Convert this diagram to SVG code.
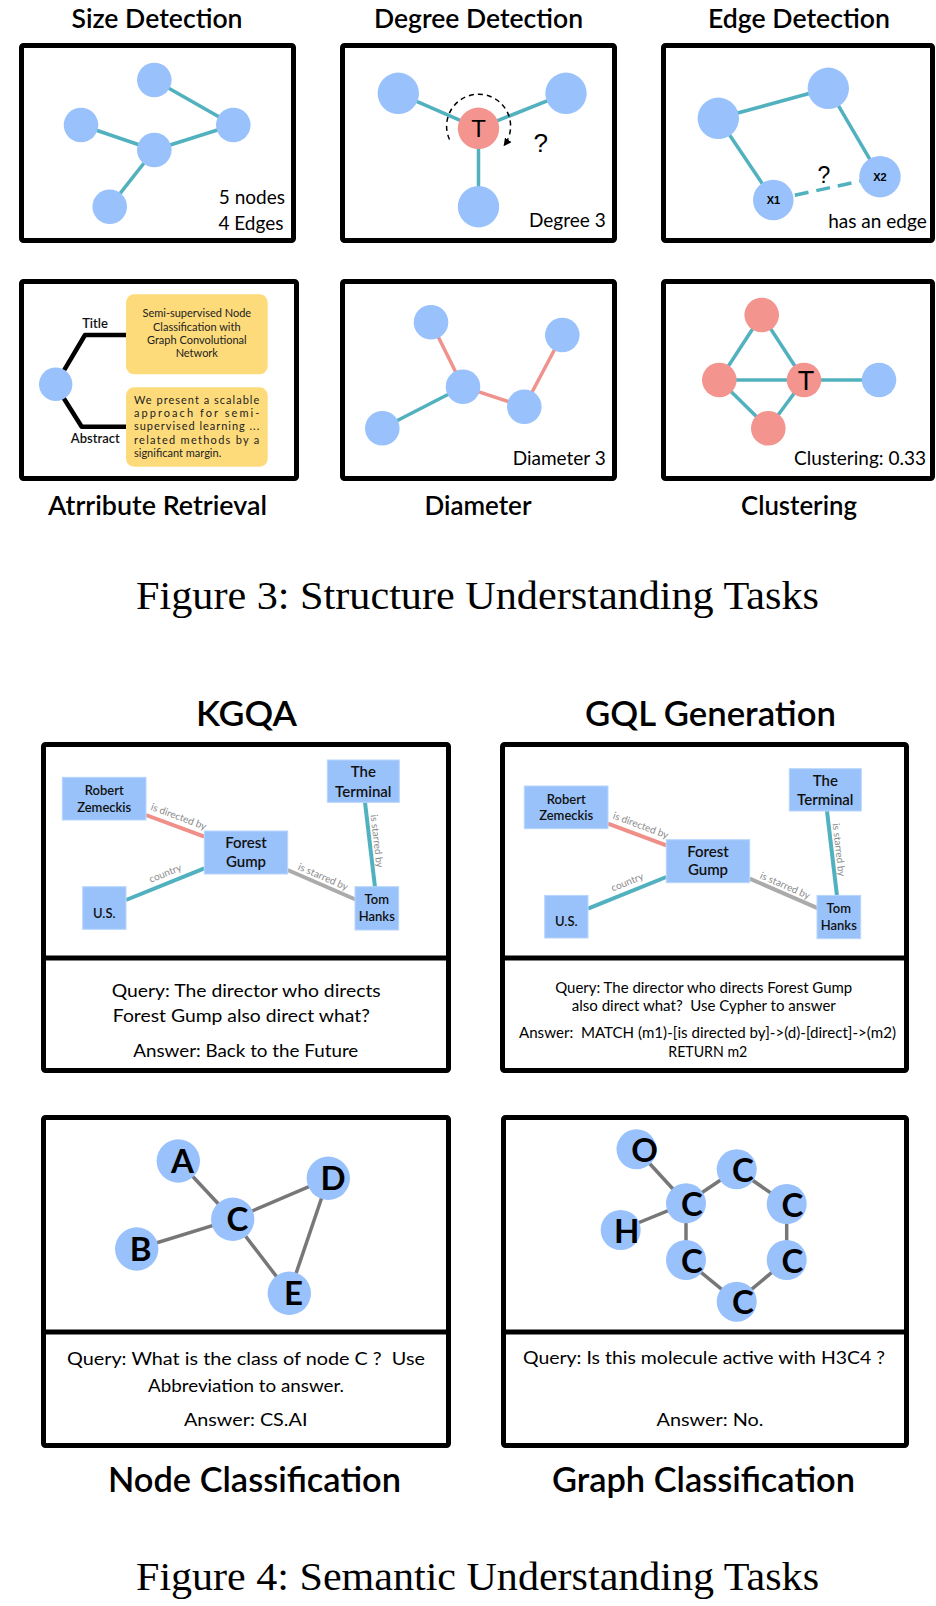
<svg xmlns="http://www.w3.org/2000/svg" width="936" height="1606" viewBox="0 0 936 1606">
<defs>
<style>
.box{fill:none;stroke:#000;stroke-width:5;stroke-linejoin:round}
.ttl{font-family:Lato,"Open Sans",sans-serif;font-weight:600;font-size:26px;fill:#000;text-anchor:middle}
.ttl2{font-family:Lato,"Open Sans",sans-serif;font-weight:600;font-size:34px;fill:#000;text-anchor:middle}
.cap{font-family:"Liberation Serif","Times New Roman",serif;font-size:41px;fill:#000;text-anchor:middle}
.lbl{font-family:Lato,"Open Sans",sans-serif;font-size:19px;fill:#000;text-anchor:end}
.bn{fill:#99C2FC}
.rn{fill:#F3948F}
.te{stroke:#52B1BF;stroke-width:3.5;fill:none}
.se{stroke:#F0928C;stroke-width:3.5;fill:none}
.ge{stroke:#777;stroke-width:3.5;fill:none}
.ke{stroke-width:4;fill:none}
.kr{fill:#99C2FA;stroke:#B8D5FC;stroke-width:1}
.kt{font-family:Lato,"Open Sans",sans-serif;font-size:13px;font-weight:600;fill:#111;text-anchor:middle}
.kt2{font-family:Lato,"Open Sans",sans-serif;font-size:15px;font-weight:600;fill:#111;text-anchor:middle}
.el{font-family:Lato,"Open Sans",sans-serif;font-size:10px;fill:#8a8a8a;text-anchor:middle}
.q{font-family:Lato,"Open Sans",sans-serif;font-size:18px;fill:#000;text-anchor:middle}
.q2{font-family:Lato,"Open Sans",sans-serif;font-size:15px;fill:#000;text-anchor:middle}
.let{font-family:Lato,"Open Sans",sans-serif;font-weight:700;font-size:33px;fill:#000;text-anchor:middle}
.hv{font-family:"Liberation Sans",Arial,sans-serif;fill:#000;text-anchor:middle}
.yb{fill:#FDDB7B}
.yt{font-family:Lato,"Open Sans",sans-serif;font-size:11px;fill:#222}
.blk{stroke:#000;stroke-width:4.5;fill:none;stroke-linejoin:round}
</style>
<marker id="arr" viewBox="0 0 10 10" refX="8" refY="5" markerWidth="8" markerHeight="8" markerUnits="userSpaceOnUse" orient="auto">
<path d="M0,0 L10,5 L0,10 z" fill="#000"/>
</marker>
</defs>
<rect width="936" height="1606" fill="#fff"/>

<!-- ===== Figure 3 ===== -->
<g id="size-detection">
<text class="ttl" x="157" y="28" textLength="171" lengthAdjust="spacingAndGlyphs">Size Detection</text>
<rect class="box" x="21.5" y="45.5" width="272" height="195" rx="2"/>
<g id="size-edges">
<line class="te" x1="154.3" y1="80" x2="233.3" y2="125"/>
<line class="te" x1="81" y1="125" x2="154.3" y2="150"/>
<line class="te" x1="154.3" y1="150" x2="233.3" y2="125"/>
<line class="te" x1="154.3" y1="150" x2="109.7" y2="206.7"/>
</g>
<g id="size-n1"><circle class="bn" cx="154.3" cy="80" r="17.3"/></g>
<g id="size-n2"><circle class="bn" cx="81" cy="125" r="17.3"/></g>
<g id="size-n3"><circle class="bn" cx="233.3" cy="125" r="17.3"/></g>
<g id="size-n4"><circle class="bn" cx="154.3" cy="150" r="17.3"/></g>
<g id="size-n5"><circle class="bn" cx="109.7" cy="206.7" r="17.3"/></g>
<text class="lbl" x="285" y="204">5 nodes</text>
<text class="lbl" x="283.5" y="229.5">4 Edges</text>
</g>

<g id="degree-detection">
<text class="ttl" x="478.5" y="28" textLength="209" lengthAdjust="spacingAndGlyphs">Degree Detection</text>
<rect class="box" x="342.5" y="45.5" width="272" height="195" rx="2"/>
<g id="degree-edges">
<line class="te" x1="398.3" y1="93.3" x2="478.5" y2="128.3"/>
<line class="te" x1="478.5" y1="128.3" x2="566" y2="93.3"/>
<line class="te" x1="478.5" y1="128.3" x2="478.5" y2="206.7"/>
</g>
<g id="degree-nl"><circle class="bn" cx="398.3" cy="93.3" r="20.7"/></g>
<g id="degree-nr"><circle class="bn" cx="566" cy="93.3" r="20.7"/></g>
<g id="degree-nb"><circle class="bn" cx="478.5" cy="206.7" r="20.7"/></g>
<g id="degree-t"><circle class="rn" cx="478.5" cy="128.3" r="20.7"/><text class="hv" x="478.5" y="137" font-size="24">T</text></g>
<path d="M449.5,139.5 A32,32 0 1 1 504.5,145" fill="none" stroke="#000" stroke-width="1.5" stroke-dasharray="5,4" marker-end="url(#arr)"/>
<text class="hv" x="540.8" y="151.7" font-size="26">?</text>
<text class="lbl" x="605.7" y="226.5">Degree 3</text>
</g>

<g id="edge-detection">
<text class="ttl" x="799" y="28" textLength="182" lengthAdjust="spacingAndGlyphs">Edge Detection</text>
<rect class="box" x="663.5" y="45.5" width="269" height="195" rx="2"/>
<g id="edgedet-edges">
<line class="te" x1="718.3" y1="118.3" x2="828.3" y2="88.3"/>
<line class="te" x1="718.3" y1="118.3" x2="773.3" y2="200"/>
<line class="te" x1="828.3" y1="88.3" x2="880" y2="176.7"/>
<line class="te" x1="773.3" y1="200" x2="880" y2="176.7" stroke-dasharray="14,8"/>
</g>
<g id="edgedet-n1"><circle class="bn" cx="718.3" cy="118.3" r="20.7"/></g>
<g id="edgedet-n2"><circle class="bn" cx="828.3" cy="88.3" r="20.7"/></g>
<g id="edgedet-x1"><circle class="bn" cx="773.3" cy="200" r="20.3"/><text class="hv" x="773.5" y="204" font-size="11" font-weight="bold">X1</text></g>
<g id="edgedet-x2"><circle class="bn" cx="880" cy="176.7" r="20.7"/><text class="hv" x="880" y="180.7" font-size="11" font-weight="bold">X2</text></g>
<text class="hv" x="824" y="183.3" font-size="23">?</text>
<text class="lbl" x="926.7" y="228">has an edge</text>
</g>

<g id="attribute-retrieval">
<rect class="box" x="21.5" y="281.5" width="275" height="197" rx="2"/>
<polyline class="blk" points="63.3,371.7 85,335 126,335"/>
<polyline class="blk" points="63.3,397.5 81.7,426.7 126,426.7"/>
<g id="attr-node"><circle class="bn" cx="55.7" cy="384.3" r="16.7"/></g>
<text class="kt" x="95" y="327.7" font-size="13">Title</text>
<text class="kt" x="95.3" y="443.3" font-size="13">Abstract</text>
<g id="attr-title">
<rect class="yb" x="126" y="294.3" width="141.7" height="80" rx="8"/>
<text class="yt" x="196.8" y="317.3" text-anchor="middle">Semi-supervised Node</text>
<text class="yt" x="196.8" y="331" text-anchor="middle">Classification with</text>
<text class="yt" x="196.8" y="344.3" text-anchor="middle">Graph Convolutional</text>
<text class="yt" x="196.8" y="357.3" text-anchor="middle">Network</text>
</g>
<g id="attr-abstract">
<rect class="yb" x="126" y="387.3" width="141.7" height="79.4" rx="8"/>
<text class="yt" x="134" y="404" textLength="125.3" lengthAdjust="spacing">We present a scalable</text>
<text class="yt" x="134" y="417.2" textLength="125.3" lengthAdjust="spacing">approach for semi-</text>
<text class="yt" x="134" y="430.4" textLength="125.3" lengthAdjust="spacing">supervised learning ...</text>
<text class="yt" x="134" y="443.6" textLength="125.3" lengthAdjust="spacing">related methods by a</text>
<text class="yt" x="134" y="456.8">significant margin.</text>
</g>
<text class="ttl" x="157.5" y="515" textLength="219" lengthAdjust="spacingAndGlyphs">Atrribute Retrieval</text>
</g>

<g id="diameter">
<rect class="box" x="342.5" y="281.5" width="272" height="197" rx="2"/>
<g id="diam-edges">
<line class="se" x1="431" y1="322.3" x2="463" y2="386.7"/>
<line class="te" x1="382.3" y1="428.3" x2="463" y2="386.7"/>
<line class="se" x1="463" y1="386.7" x2="524.3" y2="406.7"/>
<line class="se" x1="524.3" y1="406.7" x2="562.3" y2="335"/>
</g>
<g id="diam-n1"><circle class="bn" cx="431" cy="322.3" r="17.3"/></g>
<g id="diam-n2"><circle class="bn" cx="463" cy="386.7" r="17.3"/></g>
<g id="diam-n3"><circle class="bn" cx="382.3" cy="428.3" r="17.3"/></g>
<g id="diam-n4"><circle class="bn" cx="524.3" cy="406.7" r="17.3"/></g>
<g id="diam-n5"><circle class="bn" cx="562.3" cy="335" r="17.3"/></g>
<text class="lbl" x="605.7" y="465">Diameter 3</text>
<text class="ttl" x="478" y="515" textLength="107" lengthAdjust="spacingAndGlyphs">Diameter</text>
</g>

<g id="clustering">
<rect class="box" x="663.5" y="281.5" width="269" height="197" rx="2"/>
<g id="clus-edges">
<line class="te" x1="761.7" y1="315" x2="719.3" y2="380"/>
<line class="te" x1="761.7" y1="315" x2="804" y2="380"/>
<line class="te" x1="719.3" y1="380" x2="804" y2="380"/>
<line class="te" x1="719.3" y1="380" x2="768.3" y2="428.3"/>
<line class="te" x1="768.3" y1="428.3" x2="804" y2="380"/>
<line class="te" x1="804" y1="380" x2="879" y2="380"/>
</g>
<g id="clus-top"><circle class="rn" cx="761.7" cy="315" r="17.3"/></g>
<g id="clus-left"><circle class="rn" cx="719.3" cy="380" r="17.3"/></g>
<g id="clus-bottom"><circle class="rn" cx="768.3" cy="428.3" r="17.3"/></g>
<g id="clus-t"><circle class="rn" cx="804" cy="380" r="17.3"/><text class="hv" x="806" y="390" font-size="27">T</text></g>
<g id="clus-right"><circle class="bn" cx="879" cy="380" r="17.3"/></g>
<text class="lbl" x="926" y="465">Clustering: 0.33</text>
<text class="ttl" x="799" y="515" textLength="116" lengthAdjust="spacingAndGlyphs">Clustering</text>
</g>

<text class="cap" x="477.5" y="609" textLength="683" lengthAdjust="spacingAndGlyphs">Figure 3: Structure Understanding Tasks</text>

<!-- ===== Figure 4 ===== -->
<g id="kgqa">
<text class="ttl2" x="246.5" y="726" textLength="101" lengthAdjust="spacingAndGlyphs">KGQA</text>
<rect class="box" x="43.5" y="744.5" width="405" height="326" rx="2"/>
<line x1="41" y1="958" x2="451" y2="958" stroke="#000" stroke-width="5"/>
<g id="kgqa-graph">
<g id="kgqa-edges">
<line class="ke" stroke="#F08E88" x1="146" y1="815" x2="204.3" y2="836.7"/>
<line class="ke" stroke="#52B1BF" x1="126" y1="900" x2="204.3" y2="868.3"/>
<line class="ke" stroke="#ABABAB" x1="287.7" y1="870" x2="356.7" y2="900"/>
<line class="ke" stroke="#52B1BF" x1="365" y1="802.3" x2="375" y2="887.3"/>
<text class="el" transform="translate(177.5,819.8) rotate(20.4)">is directed by</text>
<text class="el" transform="translate(166.5,876.5) rotate(-22)">country</text>
<text class="el" transform="translate(321.8,879.9) rotate(23.5)">is starred by</text>
<text class="el" transform="translate(373.5,841.5) rotate(83.3)">is starred by</text>
</g>
<g id="kgqa-robert"><rect class="kr" x="62.3" y="777.3" width="83.7" height="42.7"/><text class="kt" x="104.2" y="795">Robert</text><text class="kt" x="104.2" y="811.7">Zemeckis</text></g>
<g id="kgqa-terminal"><rect class="kr" x="327.3" y="760" width="72" height="42.3"/><text class="kt2" x="363.3" y="777.3">The</text><text class="kt2" x="363.3" y="796.7">Terminal</text></g>
<g id="kgqa-forest"><rect class="kr" x="204.3" y="831" width="83.4" height="43"/><text class="kt2" x="246" y="848.3">Forest</text><text class="kt2" x="246" y="866.7">Gump</text></g>
<g id="kgqa-us"><rect class="kr" x="82.7" y="886.7" width="43.3" height="42.6"/><text class="kt" x="104.3" y="917.7" font-weight="900">U.S.</text></g>
<g id="kgqa-tom"><rect class="kr" x="355" y="886.7" width="43.7" height="43.3"/><text class="kt" x="376.8" y="904.3">Tom</text><text class="kt" x="376.8" y="921">Hanks</text></g>
</g>
<text class="q" x="246.2" y="996.7" textLength="269" lengthAdjust="spacingAndGlyphs">Query: The director who directs</text>
<text class="q" x="241.3" y="1021.7" textLength="257" lengthAdjust="spacingAndGlyphs">Forest Gump also direct what?</text>
<text class="q" x="245.8" y="1057" textLength="225" lengthAdjust="spacingAndGlyphs">Answer: Back to the Future</text>
</g>

<g id="gql-generation">
<text class="ttl2" x="710.5" y="726" textLength="251" lengthAdjust="spacingAndGlyphs">GQL Generation</text>
<rect class="box" x="502.5" y="744.5" width="404" height="326" rx="2"/>
<line x1="500" y1="958" x2="909" y2="958" stroke="#000" stroke-width="5"/>
<g id="gql-graph" transform="translate(462,8.7)">
<g id="gql-edges">
<line class="ke" stroke="#F08E88" x1="146" y1="815" x2="204.3" y2="836.7"/>
<line class="ke" stroke="#52B1BF" x1="126" y1="900" x2="204.3" y2="868.3"/>
<line class="ke" stroke="#ABABAB" x1="287.7" y1="870" x2="356.7" y2="900"/>
<line class="ke" stroke="#52B1BF" x1="365" y1="802.3" x2="375" y2="887.3"/>
<text class="el" transform="translate(177.5,819.8) rotate(20.4)">is directed by</text>
<text class="el" transform="translate(166.5,876.5) rotate(-22)">country</text>
<text class="el" transform="translate(321.8,879.9) rotate(23.5)">is starred by</text>
<text class="el" transform="translate(373.5,841.5) rotate(83.3)">is starred by</text>
</g>
<g id="gql-robert"><rect class="kr" x="62.3" y="777.3" width="83.7" height="42.7"/><text class="kt" x="104.2" y="795">Robert</text><text class="kt" x="104.2" y="811.7">Zemeckis</text></g>
<g id="gql-terminal"><rect class="kr" x="327.3" y="760" width="72" height="42.3"/><text class="kt2" x="363.3" y="777.3">The</text><text class="kt2" x="363.3" y="796.7">Terminal</text></g>
<g id="gql-forest"><rect class="kr" x="204.3" y="831" width="83.4" height="43"/><text class="kt2" x="246" y="848.3">Forest</text><text class="kt2" x="246" y="866.7">Gump</text></g>
<g id="gql-us"><rect class="kr" x="82.7" y="886.7" width="43.3" height="42.6"/><text class="kt" x="104.3" y="917.7" font-weight="900">U.S.</text></g>
<g id="gql-tom"><rect class="kr" x="355" y="886.7" width="43.7" height="43.3"/><text class="kt" x="376.8" y="904.3">Tom</text><text class="kt" x="376.8" y="921">Hanks</text></g>
</g>
<text class="q2" x="703.7" y="992.7" textLength="297" lengthAdjust="spacingAndGlyphs">Query: The director who directs Forest Gump</text>
<text class="q2" x="703.8" y="1011" textLength="264" lengthAdjust="spacingAndGlyphs" xml:space="preserve">also direct what?  Use Cypher to answer</text>
<text class="q2" x="707.5" y="1038.3" textLength="377" lengthAdjust="spacingAndGlyphs" xml:space="preserve">Answer:  MATCH (m1)-[is directed by]-&gt;(d)-[direct]-&gt;(m2)</text>
<text class="q2" x="707.8" y="1056.7" textLength="79" lengthAdjust="spacingAndGlyphs">RETURN m2</text>
</g>

<g id="node-classification">
<rect class="box" x="43.5" y="1117.5" width="405" height="328" rx="2"/>
<line x1="41" y1="1332" x2="451" y2="1332" stroke="#000" stroke-width="5"/>
<g id="nc-edges">
<line class="ge" x1="178.3" y1="1161" x2="232.7" y2="1219.3"/>
<line class="ge" x1="136.7" y1="1249" x2="232.7" y2="1219.3"/>
<line class="ge" x1="232.7" y1="1219.3" x2="328.3" y2="1178.3"/>
<line class="ge" x1="232.7" y1="1219.3" x2="289.3" y2="1293.3"/>
<line class="ge" x1="328.3" y1="1178.3" x2="289.3" y2="1293.3"/>
</g>
<g id="nc-a"><circle class="bn" cx="178.3" cy="1161" r="21.7"/><text class="let" x="182.5" y="1173">A</text></g>
<g id="nc-b"><circle class="bn" cx="136.7" cy="1249" r="21.7"/><text class="let" x="140.5" y="1261">B</text></g>
<g id="nc-c"><circle class="bn" cx="232.7" cy="1219.3" r="21.7"/><text class="let" x="237.5" y="1231.3">C</text></g>
<g id="nc-d"><circle class="bn" cx="328.3" cy="1178.3" r="21.7"/><text class="let" x="333" y="1190.3">D</text></g>
<g id="nc-e"><circle class="bn" cx="289.3" cy="1293.3" r="21.7"/><text class="let" x="293.5" y="1305.3">E</text></g>
<text class="q" x="246" y="1365" textLength="358" lengthAdjust="spacingAndGlyphs" xml:space="preserve">Query: What is the class of node C ?  Use</text>
<text class="q" x="246" y="1391.7" textLength="196" lengthAdjust="spacingAndGlyphs">Abbreviation to answer.</text>
<text class="q" x="245.7" y="1426" textLength="123.5" lengthAdjust="spacingAndGlyphs">Answer: CS.AI</text>
<text class="ttl2" x="254.5" y="1492" textLength="293" lengthAdjust="spacingAndGlyphs">Node Classification</text>
</g>

<g id="graph-classification">
<rect class="box" x="503.5" y="1117.5" width="403" height="328" rx="2"/>
<line x1="501" y1="1332" x2="909" y2="1332" stroke="#000" stroke-width="5"/>
<g id="gc-edges">
<line class="ge" x1="636.5" y1="1149.3" x2="686" y2="1203.3"/>
<line class="ge" x1="620.7" y1="1230" x2="686" y2="1203.3"/>
<line class="ge" x1="686" y1="1203.3" x2="736.7" y2="1169.3"/>
<line class="ge" x1="736.7" y1="1169.3" x2="786.7" y2="1204"/>
<line class="ge" x1="686" y1="1203.3" x2="686" y2="1260"/>
<line class="ge" x1="786.7" y1="1204" x2="786.7" y2="1260"/>
<line class="ge" x1="686" y1="1260" x2="736.7" y2="1301.7"/>
<line class="ge" x1="736.7" y1="1301.7" x2="786.7" y2="1260"/>
</g>
<g id="gc-o"><circle class="bn" cx="636.5" cy="1149.3" r="20"/><text class="let" font-size="32" x="644.5" y="1162">O</text></g>
<g id="gc-h"><circle class="bn" cx="620.7" cy="1230" r="20"/><text class="let" font-size="32" x="626.7" y="1243">H</text></g>
<g id="gc-c1"><circle class="bn" cx="686" cy="1203.3" r="20"/><text class="let" font-size="32" x="692" y="1216">C</text></g>
<g id="gc-c2"><circle class="bn" cx="736.7" cy="1169.3" r="20"/><text class="let" font-size="32" x="743" y="1182">C</text></g>
<g id="gc-c3"><circle class="bn" cx="786.7" cy="1204" r="20"/><text class="let" font-size="32" x="792.5" y="1216.7">C</text></g>
<g id="gc-c4"><circle class="bn" cx="686" cy="1260" r="20"/><text class="let" font-size="32" x="692" y="1272.7">C</text></g>
<g id="gc-c5"><circle class="bn" cx="786.7" cy="1260" r="20"/><text class="let" font-size="32" x="792.5" y="1272.7">C</text></g>
<g id="gc-c6"><circle class="bn" cx="736.7" cy="1301.7" r="20"/><text class="let" font-size="32" x="743" y="1314.4">C</text></g>
<text class="q" x="704" y="1364.3" textLength="362" lengthAdjust="spacingAndGlyphs">Query: Is this molecule active with H3C4 ?</text>
<text class="q" x="710" y="1426" textLength="107" lengthAdjust="spacingAndGlyphs">Answer: No.</text>
<text class="ttl2" x="703.5" y="1492" textLength="303" lengthAdjust="spacingAndGlyphs">Graph Classification</text>
</g>

<text class="cap" x="477.5" y="1590" textLength="683" lengthAdjust="spacingAndGlyphs">Figure 4: Semantic Understanding Tasks</text>
</svg>
